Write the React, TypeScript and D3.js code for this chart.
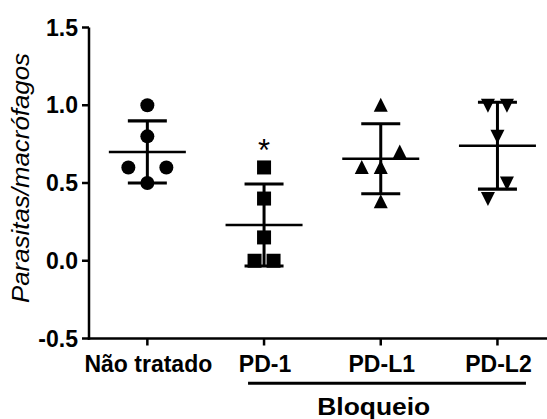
import React from "react";
import * as d3 from "d3";

const categories = ["Não tratado", "PD-1", "PD-L1", "PD-L2"];
const naoTratado = [1.0, 0.8, 0.6, 0.5, 0.6];
const pd1 = [0.6, 0.4, 0.15, 0.0, 0.0];
const pdl1 = [1.0, 0.6, 0.6, 0.7, 0.38];
const pdl2 = [1.0, 1.0, 0.8, 0.4, 0.5];
const seriesValues = [naoTratado, pd1, pdl1, pdl2];
const markerShapes = ["circle", "square", "triangle", "triangleDown"];
const yTicks = [-0.5, 0.0, 0.5, 1.0, 1.5];
const yLabel = "Parasitas/macrófagos";
const groupLabel = "Bloqueio";
const significant = ["PD-1"];

const W = 547;
const H = 419;
const FONT = "'Liberation Sans', Arial, Helvetica, sans-serif";

function mean(a: number[]) {
  return d3.mean(a) as number;
}

function jitter(values: number[], y: d3.ScaleLinear<number, number>, thr: number, step: number) {
  const idx = values.map((v, i) => i).sort((a, b) => values[a] - values[b]);
  const clusters: number[][] = [];
  let cur: number[] = [];
  idx.forEach((i, k) => {
    if (k === 0) {
      cur = [i];
    } else {
      const prev = idx[k - 1];
      if (Math.abs(y(values[i]) - y(values[prev])) < thr) cur.push(i);
      else {
        clusters.push(cur);
        cur = [i];
      }
    }
  });
  if (cur.length) clusters.push(cur);
  const off = values.map(() => 0);
  clusters.forEach((c) => {
    const ordered = [...c].sort((a, b) => a - b);
    ordered.forEach((i, j) => {
      off[i] = (j - (ordered.length - 1) / 2) * step;
    });
  });
  return off;
}

function Marker({ shape, cx, cy }: { shape: string; cx: number; cy: number }) {
  const s = 14;
  if (shape === "circle") return <circle cx={cx} cy={cy} r={s / 2} fill="#000" />;
  if (shape === "square")
    return <rect x={cx - s / 2} y={cy - s / 2} width={s} height={s} fill="#000" />;
  const h = 13;
  if (shape === "triangle")
    return (
      <path
        d={`M${cx},${cy - h / 2 - 1} L${cx + s / 2},${cy + h / 2} L${cx - s / 2},${cy + h / 2} Z`}
        fill="#000"
      />
    );
  return (
    <path
      d={`M${cx - s / 2},${cy - h / 2} L${cx + s / 2},${cy - h / 2} L${cx},${cy + h / 2 + 1} Z`}
      fill="#000"
    />
  );
}

export default function App() {
  const y = d3.scaleLinear().domain([-0.5, 1.5]).range([338.5, 27.5]);
  const x = d3.scaleBand<string>().domain(categories).range([89, 89 + 4 * 116.7]).padding(0);
  const cx = (c: string) => (x(c) as number) + x.bandwidth() / 2;
  const x0 = 89;
  const yBottom = y(-0.5);
  const fmt = (t: number) => d3.format(".1f")(t).replace("\u2212", "-");

  return (
    <svg
      width={W}
      height={H}
      style={{ position: "absolute", left: 0, top: 0, background: "#fff" }}
      fontFamily={FONT}
    >
      <rect width={W} height={H} fill="#fff" />
      {/* data */}
      {categories.map((c, gi) => {
        const vals = seriesValues[gi];
        const m = mean(vals);
        const sd = d3.deviation(vals) as number;
        const off = jitter(vals, y, 16, 19);
        const xc = cx(c);
        return (
          <g key={c}>
            {vals.map((v, i) => (
              <Marker key={i} shape={markerShapes[gi]} cx={xc + off[i]} cy={y(v)} />
            ))}
            <line x1={xc} x2={xc} y1={y(m + sd)} y2={y(m - sd)} stroke="#000" strokeWidth={3} />
            <line x1={xc - 19.5} x2={xc + 19.5} y1={y(m + sd)} y2={y(m + sd)} stroke="#000" strokeWidth={3.2} />
            <line x1={xc - 19.5} x2={xc + 19.5} y1={y(m - sd)} y2={y(m - sd)} stroke="#000" strokeWidth={3.2} />
            <line x1={xc - 38.5} x2={xc + 38.5} y1={y(m)} y2={y(m)} stroke="#000" strokeWidth={2.5} />
            {significant.includes(c) && (
              <text x={xc} y={y(d3.max(vals) as number) - 6} textAnchor="middle" fontSize={31} fill="#000">
                *
              </text>
            )}
          </g>
        );
      })}
      {/* y axis */}
      <line x1={x0} x2={x0} y1={y(1.5)} y2={yBottom + 1.25} stroke="#000" strokeWidth={2.5} />
      {yTicks.map((t) => (
        <g key={t}>
          <line x1={x0 - 7} x2={x0} y1={y(t)} y2={y(t)} stroke="#000" strokeWidth={2.5} />
          <text x={78} y={y(t) + 8} textAnchor="end" fontSize={23} fontWeight="bold" fill="#000">
            {fmt(t)}
          </text>
        </g>
      ))}
      {/* x axis */}
      <line x1={x0 - 1.25} x2={W} y1={yBottom} y2={yBottom} stroke="#000" strokeWidth={2.5} />
      {categories.map((c) => (
        <g key={c}>
          <line x1={cx(c)} x2={cx(c)} y1={yBottom} y2={yBottom + 7} stroke="#000" strokeWidth={2.5} />
          <text x={cx(c) + 1} y={372} textAnchor="middle" fontSize={23} fontWeight="bold" fill="#000">
            {c}
          </text>
        </g>
      ))}
      {/* group bracket */}
      <line x1={cx("PD-1") - 16} x2={cx("PD-L2") + 28.5} y1={383.3} y2={383.3} stroke="#000" strokeWidth={3} />
      <text
        x={cx("PD-L1") - 7}
        y={415}
        textAnchor="middle"
        fontSize={23}
        fontWeight="bold"
        fill="#000"
        textLength={113}
        lengthAdjust="spacingAndGlyphs"
      >
        {groupLabel}
      </text>
      {/* y label */}
      <text
        transform={`translate(29,178) rotate(-90)`}
        textAnchor="middle"
        fontSize={23}
        fontStyle="italic"
        fill="#000"
        textLength={250}
        lengthAdjust="spacingAndGlyphs"
      >
        {yLabel}
      </text>
    </svg>
  );
}
